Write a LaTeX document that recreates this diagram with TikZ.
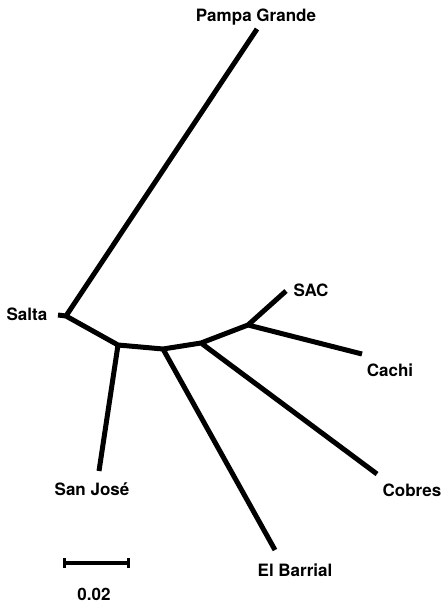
\documentclass[tikz,border=0pt]{standalone}
\usepackage{fontspec}
\setmainfont{TeX Gyre Heros}

\begin{document}
\begin{tikzpicture}[
    x=1pt,
    y=-1pt,
    branch/.style={
        line width=5pt,
        line cap=butt,
        line join=round,
    },
    taxon/.style={
        font=\fontsize{17}{20}\selectfont\bfseries,
        inner sep=0pt,
    },
]
    \useasboundingbox (0,0) rectangle (444,604);

    % internal nodes of the tree
    \coordinate (nSalta)  at (66,316);
    \coordinate (nJose)   at (118,345);
    \coordinate (nBarr)   at (163,349);
    \coordinate (nCobr)   at (201,343);
    \coordinate (nSac)    at (248,325);

    % tips
    \coordinate (tPampa)  at (257,29);
    \coordinate (tSalta)  at (58,315);
    \coordinate (tJose)   at (99,471);
    \coordinate (tBarr)   at (275,550);
    \coordinate (tCobr)   at (377,474);
    \coordinate (tCachi)  at (362,354);
    \coordinate (tSac)    at (286,291);

    % labels
    \begin{scope}[
        every node/.append style={
            taxon,
        },
    ]
        \node (pampa)  at (256,17)  {Pampa Grande};
        \node (salta)  at (27,314)  {Salta};
        \node (sac)    at (311,290) {SAC};
        \node (cachi)  at (390,370) {Cachi};
        \node (cobres) at (412,490) {Cobres};
        \node (jose)   at (92,489)  {San José};
        \node (barr)   at (295,570) {El Barrial};
        \node (scale)  at (94,594)  {0.02};
    \end{scope}

    \draw [branch]
    (tSalta) -- (nSalta) -- (tPampa)
    (nSalta) -- (nJose) -- (nBarr) -- (nCobr) -- (nSac) -- (tSac)
    (nJose)  -- (tJose)
    (nBarr)  -- (tBarr)
    (nCobr)  -- (tCobr)
    (nSac)   -- (tCachi);

    % scale bar
    \coordinate (sbL) at (64,563);
    \coordinate (sbR) at (128,563);
    \draw [line width=3.5pt] (sbL) -- (sbR);
    \draw [line width=3pt] ([yshift=-5pt]sbL) -- ([yshift=5pt]sbL)
                           ([yshift=-5pt]sbR) -- ([yshift=5pt]sbR);
\end{tikzpicture}
\end{document}
